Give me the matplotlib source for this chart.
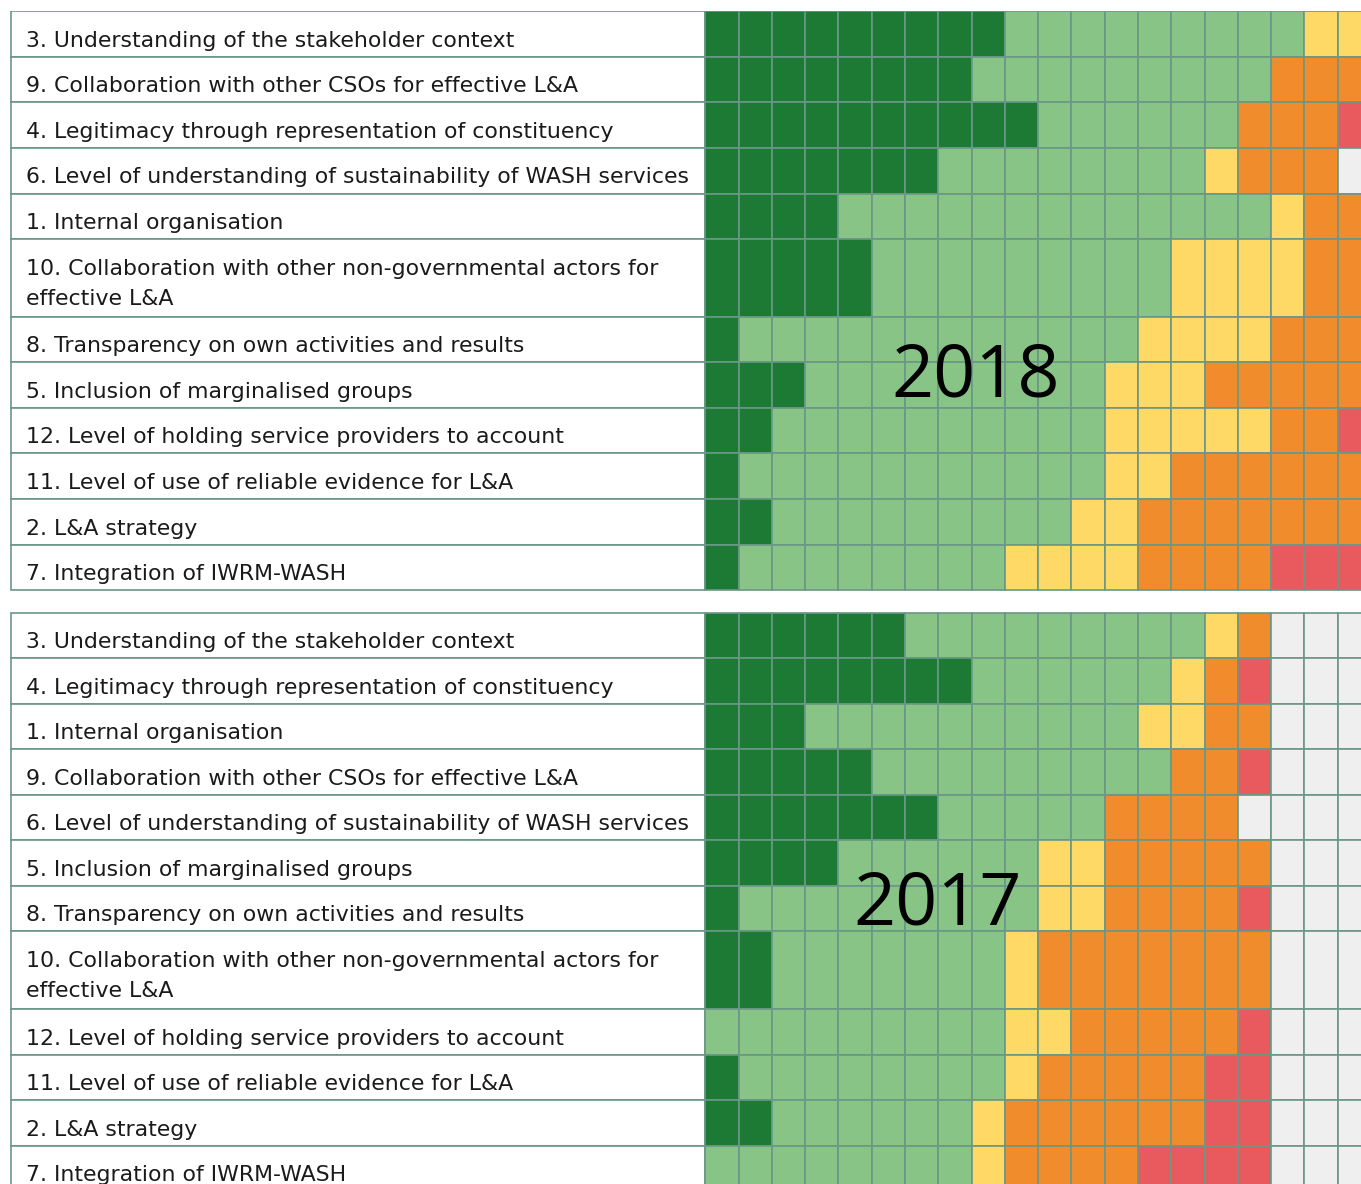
import matplotlib
matplotlib.use('Agg')
import matplotlib.pyplot as plt
from matplotlib.patches import Rectangle

# colour classes, left to right in each row
level_names = ['dark_green', 'light_green', 'yellow', 'orange', 'red', 'no_data']
level_colors = ['#1c7a34', '#87c486', '#fed966', '#f08c2b', '#e95a5f', '#efefef']

# 2018 table
labels_2018 = [
    '3. Understanding of the stakeholder context',
    '9. Collaboration with other CSOs for effective L&A',
    '4. Legitimacy through representation of constituency',
    '6. Level of understanding of sustainability of WASH services',
    '1. Internal organisation',
    '10. Collaboration with other non-governmental actors for\neffective L&A',
    '8. Transparency on own activities and results',
    '5. Inclusion of marginalised groups',
    '12. Level of holding service providers to account',
    '11. Level of use of reliable evidence for L&A',
    '2. L&A strategy',
    '7. Integration of IWRM-WASH',
]
counts_2018 = [
    [9, 9, 2, 0, 0, 0],
    [8, 9, 0, 3, 0, 0],
    [10, 6, 0, 3, 1, 0],
    [7, 8, 1, 3, 0, 1],
    [4, 13, 1, 2, 0, 0],
    [5, 9, 4, 2, 0, 0],
    [1, 12, 4, 3, 0, 0],
    [3, 9, 3, 5, 0, 0],
    [2, 10, 5, 2, 1, 0],
    [1, 11, 2, 6, 0, 0],
    [2, 9, 2, 7, 0, 0],
    [1, 8, 4, 4, 3, 0],
]

# 2017 table
labels_2017 = [
    '3. Understanding of the stakeholder context',
    '4. Legitimacy through representation of constituency',
    '1. Internal organisation',
    '9. Collaboration with other CSOs for effective L&A',
    '6. Level of understanding of sustainability of WASH services',
    '5. Inclusion of marginalised groups',
    '8. Transparency on own activities and results',
    '10. Collaboration with other non-governmental actors for\neffective L&A',
    '12. Level of holding service providers to account',
    '11. Level of use of reliable evidence for L&A',
    '2. L&A strategy',
    '7. Integration of IWRM-WASH',
]
counts_2017 = [
    [6, 9, 1, 1, 0, 3],
    [8, 6, 1, 1, 1, 3],
    [3, 10, 2, 2, 0, 3],
    [5, 9, 0, 2, 1, 3],
    [7, 5, 0, 4, 0, 4],
    [4, 6, 2, 5, 0, 3],
    [1, 9, 2, 4, 1, 3],
    [2, 7, 1, 7, 0, 3],
    [0, 9, 2, 5, 1, 3],
    [1, 8, 1, 5, 2, 3],
    [2, 6, 1, 6, 2, 3],
    [0, 8, 1, 4, 4, 3],
]

border = '#6a9786'
label_w = 20.87      # label column width, in cell units
row_h_double = 1.71  # two-line rows


def draw_table(ax, labels, counts, year, year_xy, y_visible):
    y = 0
    for label, cnt in zip(labels, counts):
        h = row_h_double if '\n' in label else 1.0
        ax.add_patch(Rectangle((-label_w, y), label_w, h, facecolor='white',
                               edgecolor=border, lw=1.2))
        for i, line in enumerate(label.split('\n')):
            ax.text(-label_w + 0.45, y + 0.78 + i * 0.66, line, fontsize=15.8,
                    va='baseline', ha='left', color='#1a1a1a')
        col = 0
        for lvl, n in enumerate(cnt):
            for _ in range(n):
                ax.add_patch(Rectangle((col, y), 1, h, facecolor=level_colors[lvl],
                                       edgecolor=border, lw=1.2))
                col += 1
        y += h
    ax.text(year_xy[0], year_xy[1], year, fontsize=53, family='Open Sans',
            ha='center', va='center', color='black')
    ax.set_xlim(-label_w - 0.02, 19.70)
    ax.set_ylim(y_visible, -0.02)
    ax.axis('off')


fig = plt.figure(figsize=(13.61, 11.84), dpi=100)
W, H = 1361, 1184
ax1 = fig.add_axes([10 / W, 1 - 590.5 / H, 1351 / W, 580 / H])
draw_table(ax1, labels_2018, counts_2018, '2018', (8.11, 8.04), 12.72)
ax2 = fig.add_axes([10 / W, 0, 1351 / W, (H - 612) / H])
draw_table(ax2, labels_2017, counts_2017, '2017', (6.97, 6.42), (H - 612) / 45.58)

fig.savefig('out.png', dpi=100, facecolor='white')
